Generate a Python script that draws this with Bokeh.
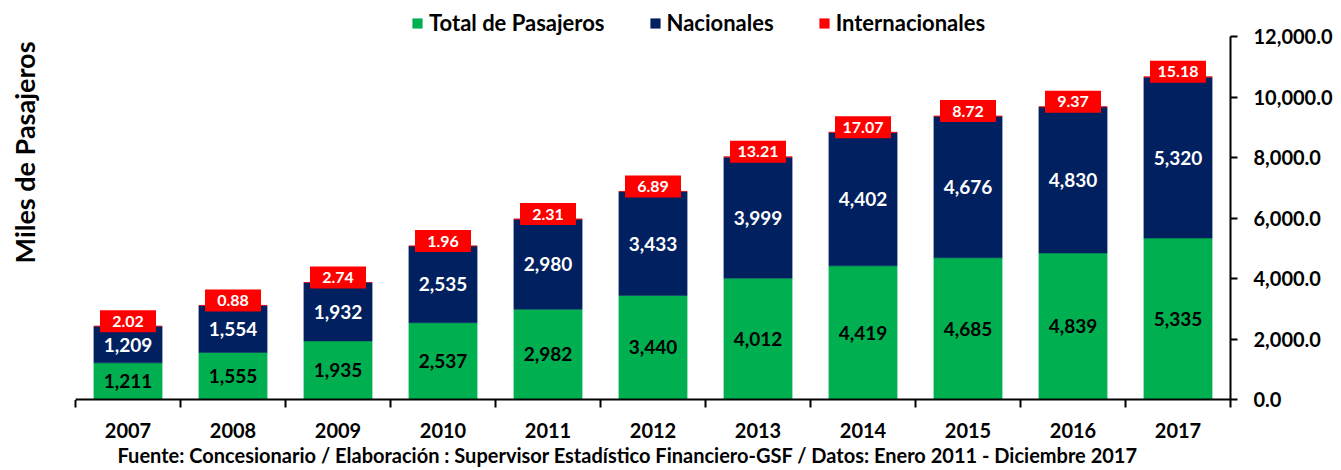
import numpy as np
from bokeh.plotting import figure
from bokeh.models import (ColumnDataSource, Range1d, LinearAxis, FixedTicker, NumeralTickFormatter,
                          CustomJSTickFormatter, Legend, LegendItem, Title)
from bokeh.core.properties import value
from bokeh.embed import file_html
from bokeh.resources import INLINE

# ---------------- data ----------------
years = ["2007", "2008", "2009", "2010", "2011", "2012", "2013", "2014", "2015", "2016", "2017"]
total_pasajeros = [1211, 1555, 1935, 2537, 2982, 3440, 4012, 4419, 4685, 4839, 5335]
nacionales = [1209, 1554, 1932, 2535, 2980, 3433, 3999, 4402, 4676, 4830, 5320]
internacionales = [2.02, 0.88, 2.74, 1.96, 2.31, 6.89, 13.21, 17.07, 8.72, 9.37, 15.18]
series_names = ["Total de Pasajeros", "Nacionales", "Internacionales"]
y_ticks = [0, 2000, 4000, 6000, 8000, 10000, 12000]
y_title = "Miles de Pasajeros"
footer = ("Fuente: Concesionario / Elaboración : Supervisor Estadístico Financiero-GSF / "
          "Datos: Enero 2011 - Diciembre 2017")

# ---------------- layout / styles ----------------
FONT = "Lato"
colors = ["#00B050", "#002060", "#FF0000"]
W, H = 1341, 470
FRAME_LEFT, FRAME_RIGHT = 75, 1230
FRAME_TOP, AXIS_TOP, AXIS_BOTTOM = 0, 36, 399   # axis 0..12000 spans AXIS_TOP..AXIS_BOTTOM
frame_h = AXIS_BOTTOM - FRAME_TOP
y_end = y_ticks[-1] * frame_h / (AXIS_BOTTOM - AXIS_TOP)
px = y_end / frame_h  # data units per pixel

n = len(years)
centers = [i + 0.5 for i in range(n)]
bounds = [float(i) for i in range(n + 1)]
tot = np.array(total_pasajeros, dtype=float)
nac = np.array(nacionales, dtype=float)
intl = np.array(internacionales, dtype=float)

source = ColumnDataSource(dict(
    x=centers, total=list(tot), nac=list(nac), intl=list(intl),
    y_tot=list(tot / 2), y_nac=list(tot + nac / 2), y_int=list(tot + nac + intl + 5 * px),
    t_tot=[f"{int(v):,}" for v in total_pasajeros],
    t_nac=[f"{int(v):,}" for v in nacionales],
    t_int=[f"{v:.2f}" for v in internacionales],
))

p = figure(width=W, height=H, x_range=Range1d(0, n), y_range=Range1d(0, y_end),
           output_backend="svg", toolbar_location=None, title=None,
           x_axis_location=None, y_axis_location=None,
           min_border_left=FRAME_LEFT, min_border_right=W - FRAME_RIGHT,
           min_border_top=FRAME_TOP, min_border_bottom=H - AXIS_BOTTOM)
p.outline_line_color = None
p.grid.visible = False
p.background_fill_color = "white"

bars = p.vbar_stack(["total", "nac", "intl"], x="x", width=0.65, source=source,
                    fill_color=colors, line_color=colors, line_width=0.5)

# x axis (ticks at category boundaries, labels at centres)
xaxis = LinearAxis(
    ticker=FixedTicker(ticks=centers, minor_ticks=bounds),
    formatter=CustomJSTickFormatter(args=dict(labels=years),
                                    code="return String(labels[Math.round(tick - 0.5)])"),
)
xaxis.axis_line_width = 2
xaxis.axis_line_color = "black"
xaxis.major_tick_line_color = None
xaxis.major_tick_out = 7
xaxis.major_tick_in = 0
xaxis.minor_tick_out = 8
xaxis.minor_tick_in = 0
xaxis.minor_tick_line_width = 2
xaxis.minor_tick_line_color = "black"
xaxis.major_label_standoff = 15
xaxis.major_label_text_font = FONT
xaxis.major_label_text_font_size = "20px"
xaxis.major_label_text_font_style = "bold"
xaxis.major_label_text_color = "black"
p.add_layout(xaxis, "below")

yaxis = LinearAxis(ticker=FixedTicker(ticks=y_ticks), bounds=(y_ticks[0], y_ticks[-1]),
                   formatter=NumeralTickFormatter(format="0,0.0"))
yaxis.axis_line_width = 2
yaxis.axis_line_color = "black"
yaxis.major_tick_out = 7
yaxis.major_tick_in = 0
yaxis.major_tick_line_width = 2
yaxis.major_tick_line_color = "black"
yaxis.minor_tick_line_color = None
yaxis.major_label_standoff = 16
yaxis.major_label_text_font = FONT
yaxis.major_label_text_font_size = "20px"
yaxis.major_label_text_font_style = "bold"
yaxis.major_label_text_color = "black"
p.add_layout(yaxis, "right")

# blank spacer axis on the left (one invisible tick, no label), then the vertical title outside it
spacer = LinearAxis(ticker=FixedTicker(ticks=[y_ticks[0]]), axis_line_color=None,
                    formatter=CustomJSTickFormatter(code="return ''"),
                    major_tick_line_color="white", minor_tick_line_color=None,
                    major_tick_out=30, major_tick_in=0, major_label_standoff=0)
p.add_layout(spacer, "left")
p.add_layout(Title(text=y_title, align="right", offset=41, standoff=10,
                   text_font=FONT, text_font_size="27px", text_font_style="bold",
                   text_color="black"), "left")

# footer below the x axis
p.add_layout(Title(text=footer, align="left", offset=42, standoff=1,
                   text_font=FONT, text_font_size="20px", text_font_style="bold",
                   text_color="black"), "below")

# value labels
p.text(x="x", y="y_tot", text="t_tot", source=source, text_align="center", text_baseline="middle",
       text_font=value(FONT), text_font_style="bold", text_font_size=value("19px"), text_color="black")
p.text(x="x", y="y_nac", text="t_nac", source=source, text_align="center", text_baseline="middle",
       text_font=value(FONT), text_font_style="bold", text_font_size=value("19px"), text_color="white")
p.rect(x="x", y="y_int", width=56, height=22, width_units="screen", height_units="screen",
       source=source, fill_color="#FF0000", line_color=None)
p.text(x="x", y="y_int", text="t_int", source=source, text_align="center", text_baseline="middle",
       text_font=value(FONT), text_font_style="bold", text_font_size=value("16px"),
       text_color="white")

legend = Legend(items=[LegendItem(label=nm, renderers=[r]) for nm, r in zip(series_names, bars)],
                orientation="horizontal",
                location=(413 - FRAME_LEFT - 2, AXIS_BOTTOM - AXIS_TOP))
legend.glyph_width = 12
legend.glyph_height = 12
legend.label_standoff = 6
legend.spacing = 44
legend.padding = 2
legend.margin = 0
legend.border_line_color = None
legend.background_fill_alpha = 0
legend.label_text_font = FONT
legend.label_text_font_size = "22px"
legend.label_text_font_style = "bold"
legend.label_text_color = "black"
p.add_layout(legend, "center")

open("out.html", "w").write(file_html(p, INLINE))
